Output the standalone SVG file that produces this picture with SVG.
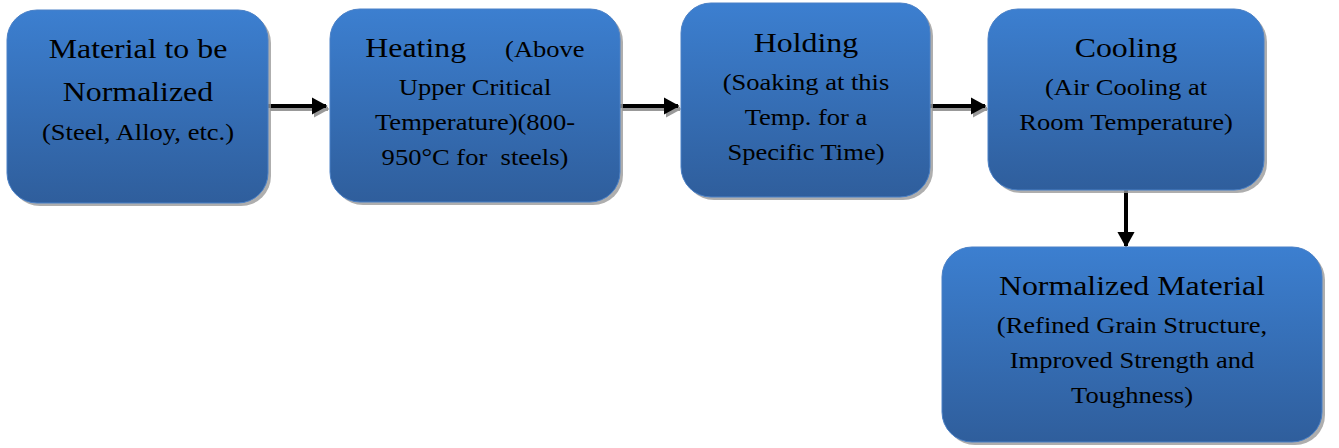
<svg xmlns="http://www.w3.org/2000/svg" width="1339" height="448" viewBox="0 0 1339 448">
<style>
.box{fill:url(#g);stroke:#4a80c6;stroke-width:1}
.sh{fill:#9a9a9a;opacity:0.8}
.t{font-family:"Liberation Serif","Times New Roman",serif;fill:#000;text-anchor:middle}
.s{text-anchor:start}
.big{font-size:27px}
.sm{font-size:22.5px}
.conn{stroke:#000;stroke-width:4;fill:none}
.connsh{stroke:#999;stroke-width:4;fill:none}
</style>
<defs>
<linearGradient id="g" x1="0" y1="0" x2="0" y2="1">
<stop offset="0" stop-color="#3c7fd0"/>
<stop offset="1" stop-color="#2f5e9c"/>
</linearGradient>
<marker id="ah" markerWidth="4" markerHeight="4.4" refX="3.6" refY="2.2" orient="auto" markerUnits="strokeWidth">
<path d="M0,0 L4,2.2 L0,4.4 z" fill="#000"/>
</marker>
<marker id="ahs" markerWidth="4" markerHeight="4.4" refX="3.6" refY="2.2" orient="auto" markerUnits="strokeWidth">
<path d="M0,0 L4,2.2 L0,4.4 z" fill="#999"/>
</marker>
</defs>
<g id="connectors">
<line class="connsh" x1="270" y1="109" x2="328" y2="109" marker-end="url(#ahs)"/>
<line class="conn" x1="268" y1="106" x2="326" y2="106" marker-end="url(#ah)"/>
<line class="connsh" x1="622" y1="109" x2="680" y2="109" marker-end="url(#ahs)"/>
<line class="conn" x1="620" y1="106" x2="678" y2="106" marker-end="url(#ah)"/>
<line class="connsh" x1="932" y1="109" x2="987" y2="109" marker-end="url(#ahs)"/>
<line class="conn" x1="930" y1="106" x2="985" y2="106" marker-end="url(#ah)"/>
<line class="conn" x1="1126" y1="190" x2="1126" y2="246" marker-end="url(#ah)"/>
</g>
<g id="node1">
<rect class="sh" x="10" y="13" width="261" height="193" rx="30"/>
<rect class="box" x="7" y="10" width="261" height="193" rx="30"/>
<g transform="translate(138 0) scale(1.18 1)">
<text class="t big" x="0" y="58">Material to be</text>
<text class="t big" x="0" y="101">Normalized</text>
<text class="t sm" x="0" y="140">(Steel, Alloy, etc.)</text>
</g>
</g>
<g id="node2">
<rect class="sh" x="333" y="12" width="290" height="193" rx="30"/>
<rect class="box" x="330" y="9" width="290" height="193" rx="30"/>
<g transform="translate(475 0) scale(1.18 1)">
<text class="t big s" x="-93" y="57">Heating</text>
<text class="t sm s" x="25.5" y="57">(Above</text>
<text class="t sm" x="0" y="95">Upper Critical</text>
<text class="t sm" x="0" y="130">Temperature)(800-</text>
<text class="t sm" x="0" y="165" xml:space="preserve">950°C for  steels)</text>
</g>
</g>
<g id="node3">
<rect class="sh" x="684" y="6" width="249" height="194" rx="30"/>
<rect class="box" x="681" y="3" width="249" height="194" rx="30"/>
<g transform="translate(806 0) scale(1.18 1)">
<text class="t big" x="0" y="52">Holding</text>
<text class="t sm" x="0" y="90">(Soaking at this</text>
<text class="t sm" x="0" y="125">Temp. for a</text>
<text class="t sm" x="0" y="160">Specific Time)</text>
</g>
</g>
<g id="node4">
<rect class="sh" x="991" y="12" width="276" height="181" rx="30"/>
<rect class="box" x="988" y="9" width="276" height="181" rx="30"/>
<g transform="translate(1126 0) scale(1.18 1)">
<text class="t big" x="0" y="57">Cooling</text>
<text class="t sm" x="0" y="95">(Air Cooling at</text>
<text class="t sm" x="0" y="130">Room Temperature)</text>
</g>
</g>
<g id="node5">
<rect class="sh" x="945" y="250" width="380" height="195" rx="30"/>
<rect class="box" x="942" y="247" width="380" height="195" rx="30"/>
<g transform="translate(1132 0) scale(1.18 1)">
<text class="t big" x="0" y="295">Normalized Material</text>
<text class="t sm" x="0" y="333">(Refined Grain Structure,</text>
<text class="t sm" x="0" y="368">Improved Strength and</text>
<text class="t sm" x="0" y="403">Toughness)</text>
</g>
</g>
</svg>
